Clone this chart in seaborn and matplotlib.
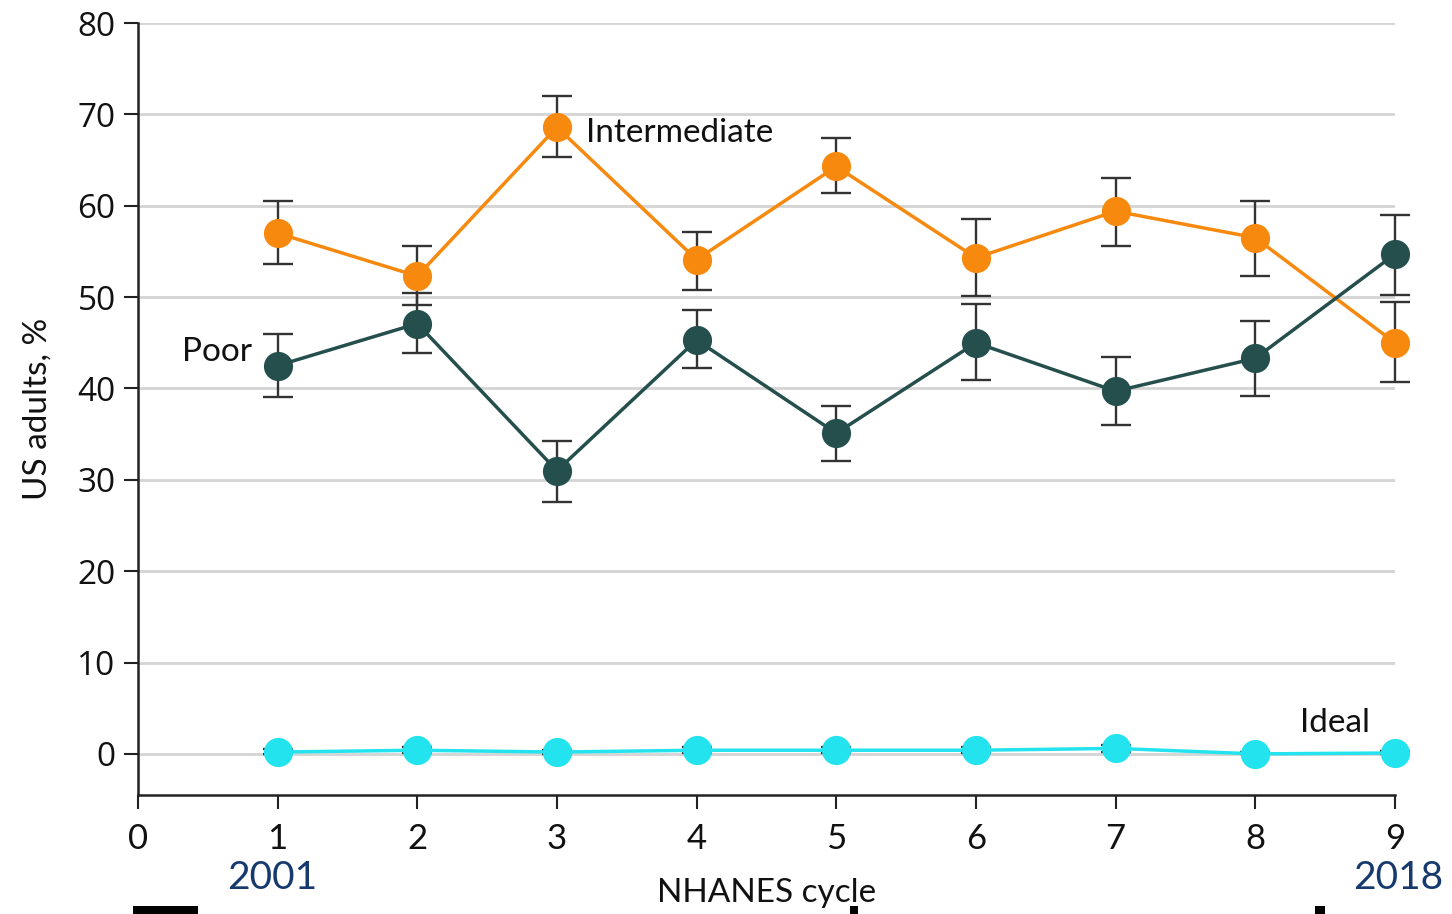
"""
Cardiovascular health categories among US adults across NHANES cycles
(2001-2018): share rated Poor / Intermediate / Ideal, with 95% CIs.
"""

import matplotlib.pyplot as plt
import pandas as pd
import seaborn as sns
from matplotlib.patches import Rectangle

# --- Data ------------------------------------------------------------------
cycles = [1, 2, 3, 4, 5, 6, 7, 8, 9]

intermediate     = [57.0, 52.3, 68.6, 54.1, 64.3, 54.3, 59.4, 56.5, 45.0]
intermediate_lo  = [53.6, 49.1, 65.3, 50.8, 61.4, 50.1, 55.6, 52.3, 40.7]
intermediate_hi  = [60.5, 55.6, 72.0, 57.1, 67.4, 58.5, 63.0, 60.5, 49.5]

poor             = [42.5, 47.1, 31.0, 45.3, 35.1, 45.0, 39.7, 43.3, 54.7]
poor_lo          = [39.1, 43.9, 27.6, 42.2, 32.1, 40.9, 36.0, 39.2, 50.2]
poor_hi          = [46.0, 50.5, 34.3, 48.6, 38.1, 49.2, 43.4, 47.4, 59.0]

ideal            = [0.2, 0.4, 0.2, 0.4, 0.4, 0.4, 0.6, 0.0, 0.1]
ideal_lo         = [0.0, 0.1, 0.0, 0.1, 0.1, 0.1, 0.2, 0.0, 0.0]
ideal_hi         = [0.5, 0.7, 0.4, 0.7, 0.7, 0.7, 1.0, 0.2, 0.3]

x_ticks = [0, 1, 2, 3, 4, 5, 6, 7, 8, 9]
y_ticks = [0, 10, 20, 30, 40, 50, 60, 70, 80]

ORANGE = "#F7890F"
TEAL   = "#254F4D"
CYAN   = "#22E3EE"
NAVY   = "#163A6E"
ERRCOL = "#333333"
INK    = "#111111"

series = {
    "Intermediate": (intermediate, intermediate_lo, intermediate_hi, ORANGE),
    "Poor":         (poor, poor_lo, poor_hi, TEAL),
    "Ideal":        (ideal, ideal_lo, ideal_hi, CYAN),
}

df = pd.concat(
    [pd.DataFrame({"cycle": cycles, "pct": v[0], "group": k})
     for k, v in series.items()],
    ignore_index=True,
)

sns.set_style("white")
plt.rcParams["font.family"] = ["Lato", "DejaVu Sans"]
plt.rcParams["text.color"] = INK
plt.rcParams["axes.labelcolor"] = INK
plt.rcParams["xtick.color"] = INK
plt.rcParams["ytick.color"] = INK

fig = plt.figure(figsize=(14.52, 9.14), dpi=100)
ax = fig.add_axes([0.0950, 0.1302, 0.8657, 0.8446])

# error bars underneath the markers
for name, (vals, lo, hi, col) in series.items():
    yerr = [[v - l for v, l in zip(vals, lo)], [h - v for v, h in zip(vals, hi)]]
    ax.errorbar(cycles, vals, yerr=yerr, fmt="none", ecolor=ERRCOL,
                elinewidth=1.7, capsize=11, capthick=1.7, zorder=2,
                clip_on=False)

sns.lineplot(data=df, x="cycle", y="pct", hue="group",
             palette={k: v[3] for k, v in series.items()},
             marker="o", markersize=21, markeredgewidth=0, linewidth=2.5,
             legend=False, ax=ax, zorder=3)
for line in ax.lines:
    line.set_clip_on(False)

# gridlines
for y in y_ticks:
    ax.axhline(y, color="#d4d4d4", linewidth=2, zorder=0)

ax.set_xlim(0, 9)
ax.set_ylim(-4.5, 80)
ax.set_xticks(x_ticks)
ax.set_yticks(y_ticks)
ax.tick_params(axis="both", direction="out", length=10, width=1.5,
               color="#222222", labelsize=24, pad=6, left=True, bottom=True)
ax.tick_params(axis="x", labelsize=25, pad=10)
for lab in ax.get_yticklabels():
    lab.set_family(["Open Sans", "DejaVu Sans"])
for s in ["top", "right"]:
    ax.spines[s].set_visible(False)
for s in ["left", "bottom"]:
    ax.spines[s].set_color("#222222")
    ax.spines[s].set_linewidth(1.8)

ax.set_xlabel("")
ax.set_ylabel("US adults, %", fontsize=24, labelpad=18)

# series labels
ax.text(3.21, 68.0, "Intermediate", fontsize=24, ha="left", va="center")
ax.text(0.82, 44.0, "Poor", fontsize=24, ha="right", va="center")
ax.text(8.57, 3.4, "Ideal", fontsize=24, ha="center", va="center")

# right edge of the source crop
fig.patches.append(Rectangle((1410 / 1452, 0.16), 1 - 1410 / 1452, 0.84,
                             transform=fig.transFigure, facecolor="white",
                             edgecolor="none", zorder=5))

fig.text(767 / 1452, 1 - 893 / 914, "NHANES cycle", fontsize=24,
         ha="center", va="center")
fig.text(272 / 1452, 1 - 878 / 914, "2001", fontsize=28, color=NAVY,
         ha="center", va="center", zorder=6)
fig.text(1398 / 1452, 1 - 878 / 914, "2018", fontsize=28, color=NAVY,
         ha="center", va="center", zorder=6)

# black slivers at the bottom edge of the source
for x0, x1 in [(133, 198), (850, 858), (1315, 1325)]:
    fig.patches.append(Rectangle((x0 / 1452, 0), (x1 - x0) / 1452, 8 / 914,
                                 transform=fig.transFigure, facecolor="black",
                                 edgecolor="none", zorder=6))

fig.savefig("out.png", dpi=100)
